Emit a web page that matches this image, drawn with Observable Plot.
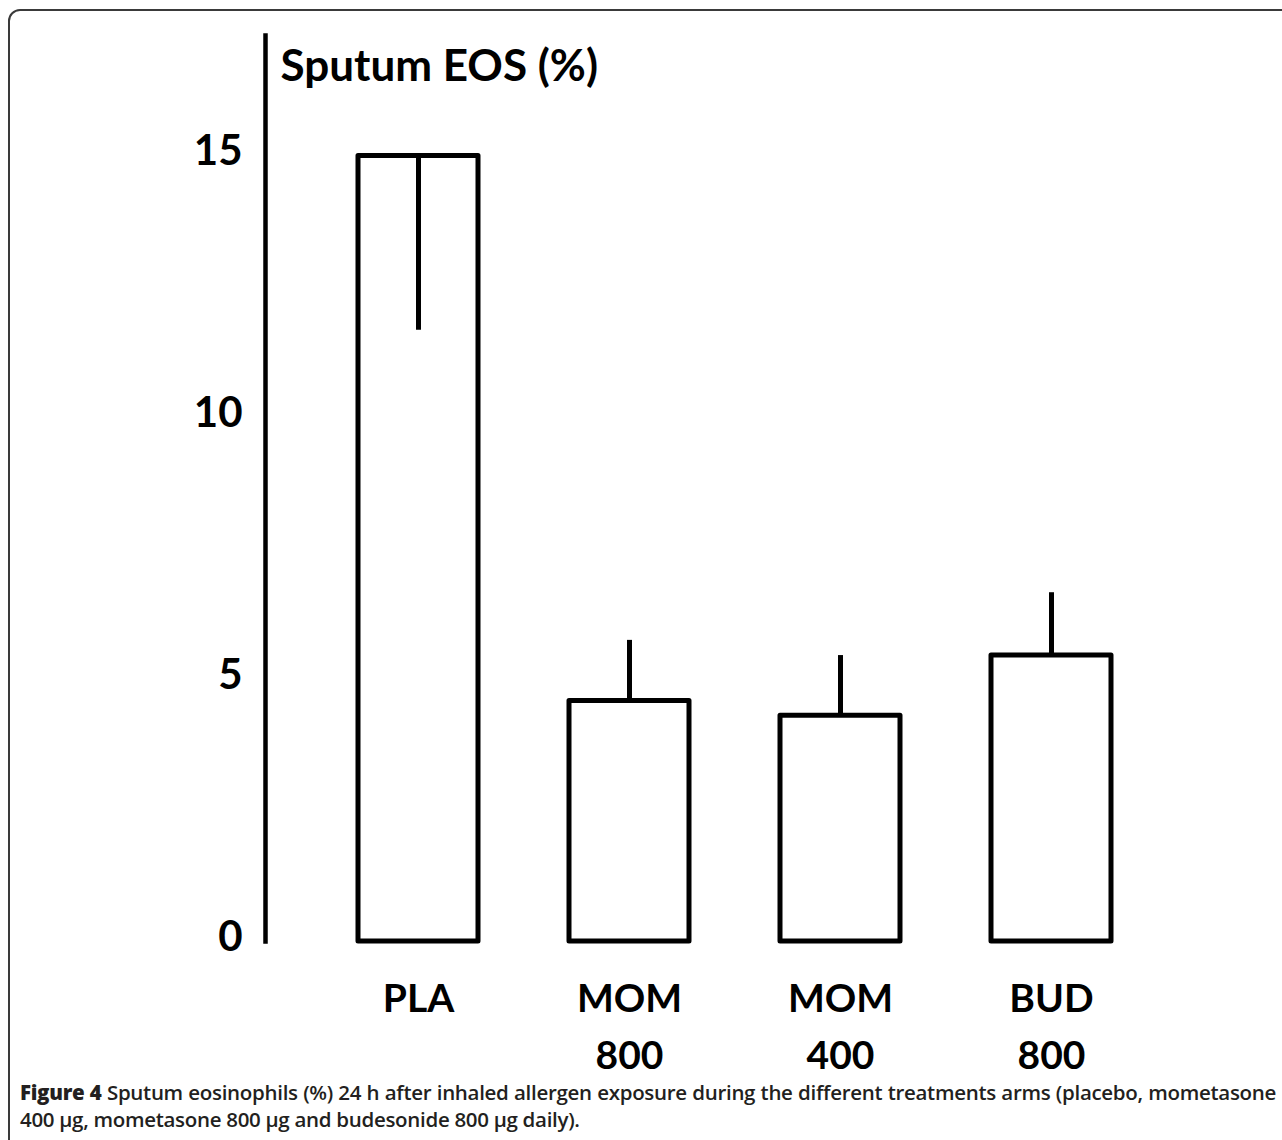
<!DOCTYPE html>
<html>
<head>
<meta charset="utf-8">
<script src="https://cdn.jsdelivr.net/npm/d3@7"></script>
<script src="https://cdn.jsdelivr.net/npm/@observablehq/plot@0.6"></script>
<style>
  html, body { margin: 0; padding: 0; background: #fff; overflow: hidden; }
  #wrap { position: relative; width: 1282px; height: 1140px; overflow: hidden; }
  #frame { position: absolute; left: 8px; top: 9px; width: 1400px; height: 1300px;
           border: 2px solid #3a3a3a; border-radius: 12px; box-sizing: border-box; }
  #chart { position: absolute; left: 0; top: 0; }
  #caption { position: absolute; left: 20px; top: 1079px; width: 1256px;
             font-family: "Open Sans", sans-serif; font-size: 20.5px; line-height: 27px;
             color: #231f20; font-weight: 600; letter-spacing: -0.3px; }
  #caption .l1 { text-align: justify; text-align-last: justify; white-space: nowrap; }
  #caption b { font-weight: 800; }
</style>
</head>
<body>
<div id="wrap">
  <div id="frame"></div>
  <div id="chart"></div>
  <div id="caption"><div class="l1"><b>Figure 4</b> Sputum eosinophils (%) 24 h after inhaled allergen exposure during the different treatments arms (placebo, mometasone</div><div>400 µg, mometasone 800 µg and budesonide 800 µg daily).</div></div>
</div>
<script>
const categories = ["PLA", "MOM 800", "MOM 400", "BUD 800"];
const tickLabels = ["PLA", "MOM\n800", "MOM\n400", "BUD\n800"];
const means = [15.0, 4.59, 4.31, 5.46];
const errorEnds = [11.67, 5.75, 5.46, 6.66];
const yTicks = [0, 5, 10, 15];
const title = "Sputum EOS (%)";

const data = categories.map((c, i) => ({cat: c, mean: means[i], err: errorEnds[i]}));
const labelOf = new Map(categories.map((c, i) => [c, tickLabels[i]]));

const font = "Lato, 'Open Sans', sans-serif";

const chart = Plot.plot({
  width: 1282,
  height: 1075,
  marginLeft: 265,
  marginRight: 78,
  marginTop: 35,
  marginBottom: 134,
  style: {fontFamily: font, color: "#000", background: "transparent", overflow: "visible"},
  x: {domain: categories, padding: 0.433, axis: null},
  y: {domain: [0, 17.3], axis: null},
  marks: [
    Plot.frame({anchor: "left", stroke: "#000", strokeWidth: 4.5}),
    Plot.barY(data, {x: "cat", y: "mean", fill: "#fff", stroke: "#000", strokeWidth: 5, strokeLinejoin: "round"}),
    Plot.ruleX(data, {x: "cat", y1: "mean", y2: "err", stroke: "#000", strokeWidth: 5}),
    Plot.axisY({ticks: yTicks, tickSize: 0, tickPadding: 23, fontSize: 42, fontWeight: "bold", dy: -4, label: null, tickFormat: d => String(d)}),
    Plot.axisX({tickSize: 0, tickPadding: 30, fontSize: 39, fontWeight: "bold", lineHeight: 1.46, label: null, tickFormat: d => labelOf.get(d)}),
    Plot.text([title], {frameAnchor: "top-left", text: d => d, dx: 15, dy: 31, textAnchor: "start", lineAnchor: "middle", fontSize: 44, fontWeight: "bold", fill: "#000"})
  ]
});
document.getElementById("chart").appendChild(chart);
</script>
</body>
</html>
